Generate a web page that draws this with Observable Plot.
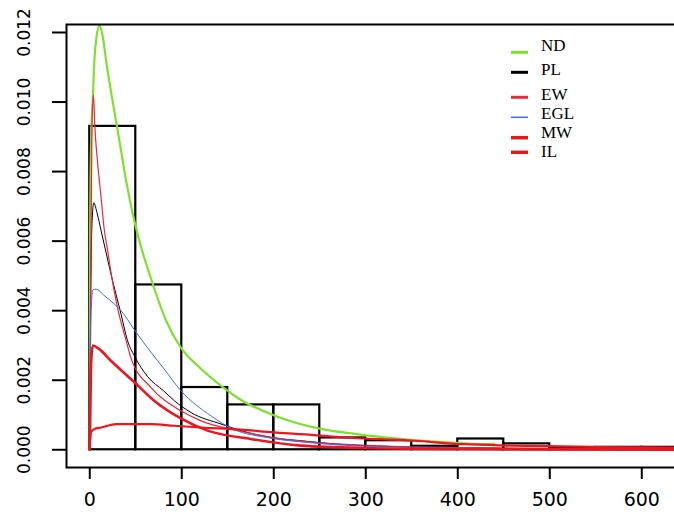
<!DOCTYPE html>
<html><head><meta charset="utf-8">
<script src="https://cdn.jsdelivr.net/npm/d3@7"></script>
<script src="https://cdn.jsdelivr.net/npm/@observablehq/plot@0.6"></script>
<style>
html,body{margin:0;padding:0;background:#fff;overflow:hidden}
#wrap{position:relative;width:674px;height:512px;overflow:hidden;background:#fff}
#wrap > svg:first-child{max-width:none !important;width:694px !important;height:512px !important;display:block}
#legend{position:absolute;left:0;top:0}
</style></head><body><div id="wrap"></div>
<script>
// Histogram (bin width 50), density values
const binStart = [0, 50, 100, 150, 200, 250, 300, 350, 400, 450, 500, 550, 600];
const binDensity = [0.0093, 0.00474, 0.00179, 0.00129, 0.00129, 0.00034, 0.00026, 0.0001, 0.00031, 0.00017, 0.00004, 0.00007, 0.00007];
const binWidth = 50;

const xTicks = [0, 100, 200, 300, 400, 500, 600];
const yTicks = [0, 0.002, 0.004, 0.006, 0.008, 0.010, 0.012];

// Fitted density curves
const ndX = [0, 0.4, 1.4, 3.2, 5, 7.5, 10.4, 14, 17.7, 25, 31.5, 39.5, 46.7, 54, 68.5, 83, 99, 120, 144.6, 160.9, 204, 251, 290, 334.5, 371, 389, 414, 440];
const ndY = [0, 0.0065, 0.0089, 0.0100, 0.0112, 0.0119, 0.0122, 0.0119, 0.0112, 0.0100, 0.0090, 0.00774, 0.00679, 0.0060, 0.00477, 0.00371, 0.00294, 0.00235, 0.0018, 0.00149, 0.00095, 0.0006, 0.00045, 0.00032, 0.00024, 0.00021, 0.00017, 0.00016];

const plX = [0, 0.8, 2, 4.3, 8, 12.3, 16.6, 23, 34, 41, 48.5, 63, 80, 92, 110, 142.7, 164.5, 197, 229.7, 269.5, 320, 400, 500, 640];
const plY = [0, 0.0035, 0.0062, 0.0071, 0.0068, 0.0063, 0.0058, 0.00506, 0.0039, 0.00314, 0.0027, 0.0021, 0.0017, 0.00141, 0.00107, 0.00074, 0.00055, 0.00035, 0.00026, 0.00016, 0.0001, 0.00006, 0.00004, 0.00003];

const ewX = [0, 1, 2.5, 4, 5.5, 8.7, 12.3, 15.9, 19, 23, 30, 39.5, 45, 66.6, 99, 121, 161, 200, 250, 300, 400, 500, 640];
const ewY = [0, 0.005, 0.0095, 0.0102, 0.0093, 0.0082, 0.00726, 0.0063, 0.0058, 0.0051, 0.0041, 0.00314, 0.00262, 0.00179, 0.00112, 0.00083, 0.00055, 0.00035, 0.0002, 0.00013, 0.00006, 0.00003, 0.00002];

const eglX = [0, 0.8, 1.5, 3.3, 6.8, 15, 26.7, 34, 48.5, 66.6, 80, 99, 132, 157, 193, 240, 300, 400, 500, 640];
const eglY = [0, 0.0028, 0.0040, 0.0046, 0.00462, 0.00445, 0.00419, 0.0040, 0.00345, 0.0028, 0.00235, 0.0017, 0.00097, 0.00058, 0.00035, 0.0002, 0.0001, 0.00005, 0.00003, 0.00002];

const mwX = [0, 0.5, 1.5, 3.3, 10, 23, 48.5, 70, 99, 128, 175, 230, 300, 400, 500, 640];
const mwY = [0, 0.0009, 0.0025, 0.0030, 0.0029, 0.00256, 0.00194, 0.00141, 0.0009, 0.00055, 0.00031, 0.00012, 0.00005, 0.00002, 0.00001, 0.000005];

const ilX = [0, 1.4, 5, 12.3, 28.6, 66.6, 91.6, 121, 164.5, 200, 229.7, 273, 352, 406, 458, 550, 640];
const ilY = [0.0002, 0.0005, 0.0006, 0.00064, 0.00074, 0.00074, 0.00069, 0.00064, 0.00058, 0.0005, 0.00045, 0.00036, 0.00026, 0.00016, 0.00012, 0.00008, 0.00006];

const legendNames = ["ND", "PL", "EW", "EGL", "MW", "IL"];

// ---- styles ----
const series = [
  {name: "ND", xs: ndX, ys: ndY, color: "#80e030", w: 2.2},
  {name: "PL", xs: plX, ys: plY, color: "#000000", w: 1},
  {name: "EW", xs: ewX, ys: ewY, color: "#e8283c", w: 1.2},
  {name: "EGL", xs: eglX, ys: eglY, color: "#3c6ee6", w: 1},
  {name: "MW", xs: mwX, ys: mwY, color: "#f0141e", w: 2.6},
  {name: "IL", xs: ilX, ys: ilY, color: "#f0141e", w: 2.2}
];

const bins = binStart.map((s, i) => ({x1: s, x2: s + binWidth, d: binDensity[i]}));

const chart = Plot.plot({
  width: 694, height: 512,
  marginLeft: 66, marginRight: 0, marginTop: 24, marginBottom: 45,
  x: {domain: [-25.3, 657.3]},
  y: {domain: [-0.00051, 0.01223]},
  style: {background: "white", fontFamily: "'DejaVu Sans', sans-serif", color: "black", maxWidth: "none"},
  marks: [
    Plot.rectY(bins, {x1: "x1", x2: "x2", y1: 0, y2: "d", fill: "none", stroke: "black", strokeWidth: 2.2}),
    ...series.map(s => Plot.line(s.xs.map((x, i) => ({x, y: s.ys[i]})), {
      x: "x", y: "y", stroke: s.color, strokeWidth: s.w, curve: "monotone-x", clip: true
    })),
    Plot.frame({stroke: "black", strokeWidth: 2}),
    Plot.axisX({ticks: xTicks, tickSize: 12, tickPadding: 13, strokeWidth: 2, fontSize: 19, tickFormat: d => String(d), label: null}),
    Plot.axisY({ticks: yTicks, tickSize: 14, strokeWidth: 2, tickFormat: () => "", label: null}),
    Plot.text(yTicks, {y: d => d, text: d => d3.format(".3f")(d), frameAnchor: "left", dx: -42, rotate: -90,
      textAnchor: "middle", lineAnchor: "middle", fontSize: 17, fill: "black"})
  ]
});
chart.style.maxWidth = "none";
chart.style.width = "694px";
chart.style.height = "512px";

const wrap = document.getElementById("wrap");
wrap.appendChild(chart);

// Legend (no box), top right
const lg = d3.select(wrap).append("svg").attr("id", "legend").attr("width", 674).attr("height", 512);
const rowText = [51, 74.5, 99.5, 119, 137.5, 156.5];
const rowLine = [52.3, 72.3, 97.3, 117.3, 137.7, 152.3];
const lineW = [3, 3, 3, 1.5, 3.5, 3.5];
legendNames.forEach((n, i) => {
  const s = series.find(d => d.name === n);
  lg.append("line").attr("x1", 511).attr("x2", 528).attr("y1", rowLine[i]).attr("y2", rowLine[i])
    .attr("stroke", s.color).attr("stroke-width", lineW[i]);
  lg.append("text").attr("x", 541).attr("y", rowText[i]).text(n)
    .attr("font-family", "'Liberation Serif', 'Times New Roman', serif").attr("font-size", 17).attr("fill", "black");
});
</script></body></html>
